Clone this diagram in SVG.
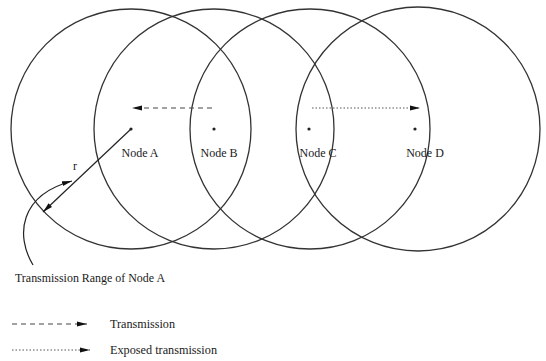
<svg xmlns="http://www.w3.org/2000/svg" width="546" height="361" viewBox="0 0 546 361">
<defs>
<style>
.rng{fill:none;stroke:#333;stroke-width:1.3}
.dot{fill:#222}
.lbl{font-family:"Liberation Serif","Times New Roman",serif;font-size:12px;fill:#1a1a1a}
.tx{stroke:#444;stroke-width:1.2;fill:none;stroke-dasharray:5 4}
.ex{stroke:#555;stroke-width:1.2;fill:none;stroke-dasharray:1.5 2}
.ln{stroke:#222;stroke-width:1.2;fill:none}
</style>
<marker id="ah" viewBox="0 0 10 6" refX="10" refY="3" markerWidth="10" markerHeight="6" markerUnits="userSpaceOnUse" orient="auto">
<path d="M0,0.5 L10,3 L0,5.5 Z" fill="#111"/>
</marker>
</defs>
<rect width="546" height="361" fill="#fff"/>
<g id="nodeA">
<circle class="rng" cx="131" cy="129" r="120"/>
<circle class="dot" cx="131" cy="129" r="1.6"/>
<text class="lbl" x="140" y="157" text-anchor="middle">Node A</text>
</g>
<g id="nodeB">
<circle class="rng" cx="214" cy="129" r="120"/>
<circle class="dot" cx="214" cy="129" r="1.6"/>
<text class="lbl" x="219" y="157" text-anchor="middle">Node B</text>
</g>
<g id="nodeC">
<circle class="rng" cx="310" cy="129" r="120"/>
<circle class="dot" cx="309" cy="129" r="1.6"/>
<text class="lbl" x="318" y="157" text-anchor="middle">Node C</text>
</g>
<g id="nodeD">
<circle class="rng" cx="418" cy="129" r="122"/>
<circle class="dot" cx="415" cy="129" r="1.6"/>
<text class="lbl" x="425" y="157" text-anchor="middle">Node D</text>
</g>
<g id="connectors">
<line class="tx" x1="212" y1="108" x2="132" y2="108" marker-end="url(#ah)"/>
<line class="ex" x1="312" y1="108" x2="420" y2="108" marker-end="url(#ah)"/>
<line class="ln" x1="131" y1="129" x2="43" y2="212" marker-end="url(#ah)"/>
<path class="ln" d="M33,265 C15,235 20,195 72,181" marker-end="url(#ah)"/>
<text class="lbl" x="75" y="170" font-size="8" text-anchor="middle">r</text>
</g>
<text class="lbl" x="15" y="282" textLength="150" lengthAdjust="spacingAndGlyphs">Transmission Range of Node A</text>
<g id="legend">
<line class="tx" x1="12" y1="324" x2="87" y2="324" marker-end="url(#ah)"/>
<text class="lbl" x="110" y="328" textLength="65" lengthAdjust="spacingAndGlyphs">Transmission</text>
<line class="ex" x1="12" y1="350" x2="90" y2="350" marker-end="url(#ah)"/>
<text class="lbl" x="110" y="354" textLength="107" lengthAdjust="spacingAndGlyphs">Exposed transmission</text>
</g>
</svg>
